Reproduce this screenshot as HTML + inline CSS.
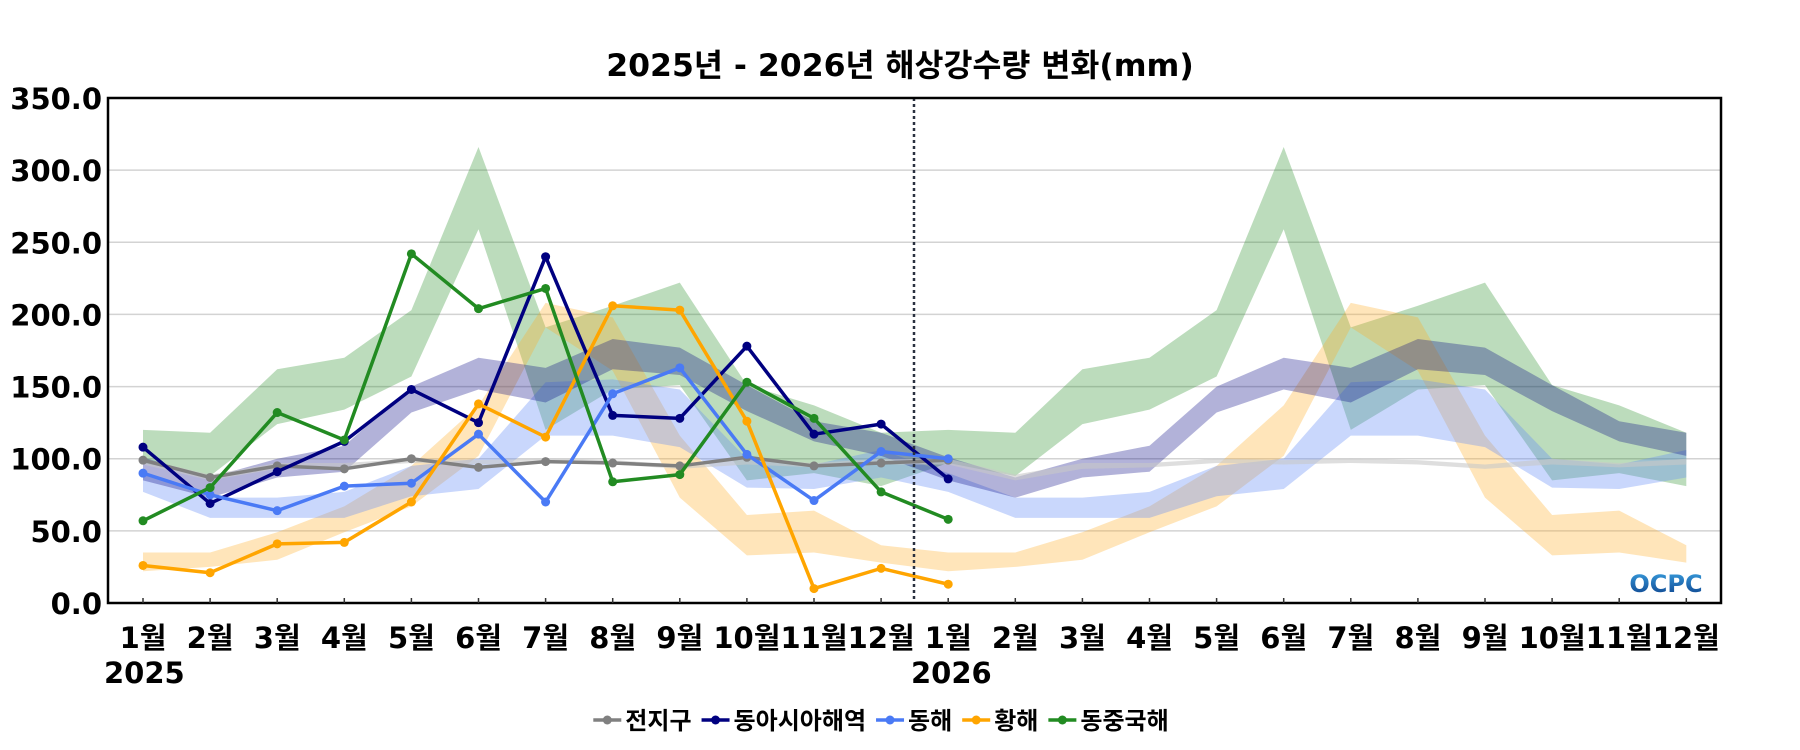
<!DOCTYPE html>
<html><head><meta charset="utf-8">
<style>
html,body{margin:0;padding:0;background:#fff;}
svg{display:block;}
text{font-family:"DejaVu Sans","Noto Sans CJK KR",sans-serif;font-weight:bold;fill:#000;}
</style></head>
<body>
<svg id="chart" width="1800" height="750" viewBox="0 0 1800 750" xmlns="http://www.w3.org/2000/svg">
<defs><linearGradient id="lg" x1="0" y1="0" x2="0" y2="1"><stop offset="0" stop-color="#3aa0e0"/><stop offset="1" stop-color="#0b3f8a"/></linearGradient></defs>
<text x="900" y="76" text-anchor="middle" font-size="31.5">2025년 - 2026년 해상강수량 변화(mm)</text>
<g id="grid"></g><g id="bands"></g><g id="lines"></g><g id="axes"></g>
<text x="1666" y="592" text-anchor="middle" font-size="24" style="fill:url(#lg)">OCPC</text>
<g id="legend"></g>
</svg>
<script>
const yTicks = [0,50,100,150,200,250,300,350];
const monthLabels = ["1월","2월","3월","4월","5월","6월","7월","8월","9월","10월","11월","12월"];
const seriesNames = ["전지구","동아시아해역","동해","황해","동중국해"];
const seriesColors = ["#808080","#000080","#4a7af5","#FFA500","#228B22"];
const globalObs = [99,87,95,93,100,94,98,97,95,101,95,97,99];
const eastAsiaObs = [108,69,91,112,148,125,240,130,128,178,117,124,86];
const eastSeaObs = [90,75,64,81,83,117,70,145,163,103,71,105,100];
const yellowSeaObs = [26,21,41,42,70,138,115,206,203,126,10,24,13];
const ecsObs = [57,80,132,113,242,204,218,84,89,153,128,77,58];
const globalLo = [96,85,93,94,97,96,97,96,93,96,94,96];
const globalHi = [100,89,97,97,100,99,100,99,96,100,97,100];
const eastAsiaLo = [85,73,87,91,132,148,139,162,158,133,112,102];
const eastAsiaHi = [101,87,100,109,150,170,163,183,177,151,126,118];
const eastSeaLo = [77,59,59,59,74,79,116,116,108,80,79,87];
const eastSeaHi = [90,73,73,77,95,100,153,155,148,100,96,106];
const yellowSeaLo = [22,25,30,49,67,102,191,161,73,33,35,28];
const yellowSeaHi = [35,35,49,67,95,137,208,198,116,61,64,40];
const ecsLo = [97,88,124,134,157,259,120,148,151,85,90,81];
const ecsHi = [120,118,162,170,203,316,191,206,222,151,137,118];

const NS="http://www.w3.org/2000/svg";
const L=108,R=1721,T=98,B=603,X0=143,DX=67.1;
const xs=i=>X0+i*DX;
const ys=v=>B-(v/350)*(B-T);
function mk(tag,attrs,parent){const e=document.createElementNS(NS,tag);for(const k in attrs)e.setAttribute(k,attrs[k]);parent.appendChild(e);return e;}
const grid=document.getElementById('grid'),bands=document.getElementById('bands'),lines=document.getElementById('lines'),axes=document.getElementById('axes'),legend=document.getElementById('legend');

yTicks.forEach(v=>{
  if(v>0&&v<350){const g=mk('line',{x1:L,x2:R,y1:ys(v),y2:ys(v),stroke:'#d3d3d3','stroke-width':1.5},grid);
  
  }
  const t=mk('text',{x:L-6,y:ys(v)+11,'text-anchor':'end','font-size':29},axes);
  t.textContent=v.toFixed(1);
  
  
});

const bandLo=[globalLo,eastAsiaLo,eastSeaLo,yellowSeaLo,ecsLo];
const bandHi=[globalHi,eastAsiaHi,eastSeaHi,yellowSeaHi,ecsHi];
const bandFill=['rgba(200,200,200,0.6)','rgba(0,0,128,0.3)','rgba(100,140,245,0.35)','rgba(255,175,40,0.32)','rgba(34,139,34,0.3)'];
const order=[4,3,2,1,0];
order.forEach(s=>{
  const up=[],dn=[];
  for(let i=0;i<24;i++){up.push(xs(i)+','+ys(bandHi[s][i%12]));dn.unshift(xs(i)+','+ys(bandLo[s][i%12]));}
  const p=mk('polygon',{points:up.concat(dn).join(' '),fill:bandFill[s]},bands);
  
  
});

const obs=[globalObs,eastAsiaObs,eastSeaObs,yellowSeaObs,ecsObs];
obs.forEach((arr,s)=>{
  const pts=arr.map((v,i)=>xs(i)+','+ys(v)).join(' ');
  const pl=mk('polyline',{points:pts,fill:'none',stroke:seriesColors[s],'stroke-width':3.5,'stroke-linejoin':'round'},lines);
  
  
  arr.forEach((v,i)=>{
    const c=mk('circle',{cx:xs(i),cy:ys(v),r:4.5,fill:seriesColors[s]},lines);
    
    
  });
});

const dl=mk('line',{x1:914,x2:914,y1:T,y2:B,stroke:'#2a3140','stroke-width':2.5,'stroke-dasharray':'3,3'},axes);


const fr=mk('rect',{x:L,y:T,width:R-L,height:B-T,fill:'none',stroke:'#000','stroke-width':2.5},axes);


for(let i=0;i<24;i++){
  const tk=mk('line',{x1:xs(i),x2:xs(i),y1:B,y2:B-5,stroke:'#333','stroke-width':1.5},axes);
  
  
  const t=mk('text',{x:xs(i),y:648,'text-anchor':'middle','font-size':29},axes);
  t.textContent=monthLabels[i%12];
  
  
}
[['2025',104],['2026',911]].forEach(([y,x])=>{
  const t=mk('text',{x:x,y:683,'font-size':29},axes);
  t.textContent=y;
  
  
});

let lx=600;
seriesNames.forEach((n,s)=>{
  const g=mk('g',{},legend);
  
  
  mk('line',{x1:lx,x2:lx+28,y1:720,y2:720,stroke:seriesColors[s],'stroke-width':3.5},g);
  mk('circle',{cx:lx+14,cy:720,r:4.5,fill:seriesColors[s]},g);
  const t=mk('text',{x:lx+32,y:729,'font-size':24},g);
  t.textContent=n;
  lx+=32+t.getComputedTextLength()+10;
});
const total=lx-600-10, shift=881-total/2-600;
legend.setAttribute('transform','translate('+shift+',0)');
</script>
</body></html>
